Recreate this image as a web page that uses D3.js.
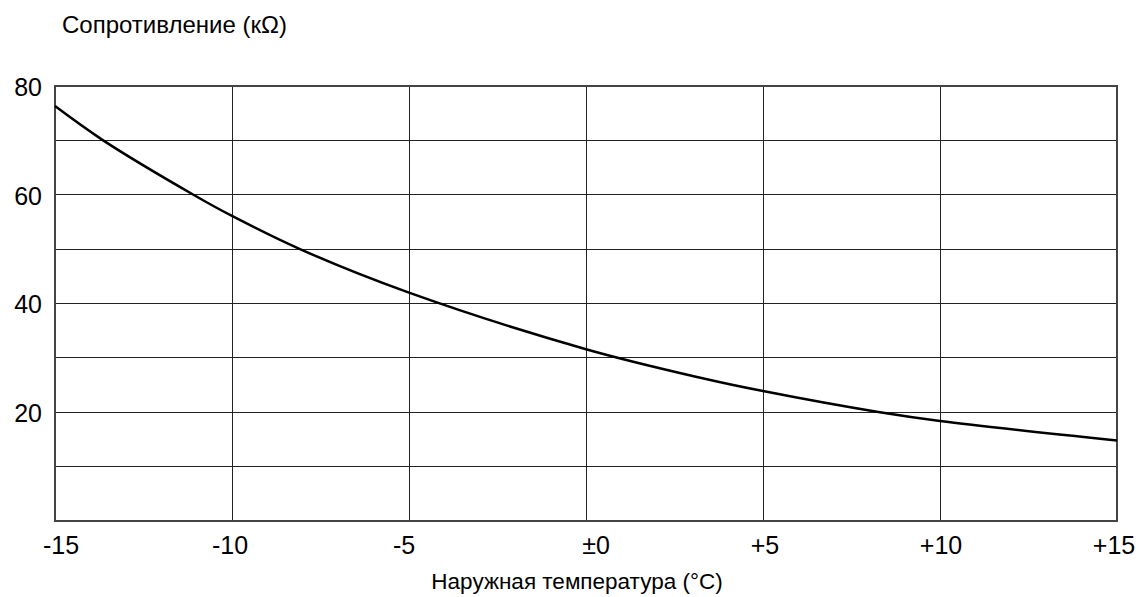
<!DOCTYPE html>
<html><head><meta charset="utf-8">
<script src="https://cdn.jsdelivr.net/npm/d3@7"></script>
<style>body{margin:0;background:#fff}svg{display:block}text{font-family:"Liberation Sans",Arial,sans-serif;fill:#000}</style>
</head><body><svg id="c" width="1140" height="597"></svg>
<script>
const temps = [-15, -13.64, -11.09, -10, -8.08, -5, 0, 3.2, 5, 8.3, 10, 15];
const resistance = [76.3, 70, 60, 56.1, 50, 42.0, 31.6, 26.4, 23.9, 20, 18.4, 14.8];
const xTicks = [-15, -10, -5, 0, 5, 10, 15];
const xTickLabels = ["-15", "-10", "-5", "±0", "+5", "+10", "+15"];
const yGrid = [0, 10, 20, 30, 40, 50, 60, 70, 80];
const yTickLabels = [20, 40, 60, 80];
const yTitle = "Сопротивление (кΩ)";
const xTitle = "Наружная температура (°C)";

const svg = d3.select("#c");
const L = 55, R = 1117, T = 86, B = 521;
const x = d3.scaleLinear().domain([-15, 15]).range([L, R]);
const y = d3.scaleLinear().domain([0, 80]).range([B, T]);
// small horizontal label nudges (layout only)
const labelNudge = {"-15": 6, "-10": -2, "-5": -5, "0": 10, "5": 2, "10": 1, "15": -3};

const g = svg.append("g");
g.selectAll("line.v").data(xTicks).join("line")
  .attr("x1", d => x(d)).attr("x2", d => x(d)).attr("y1", T).attr("y2", B)
  .attr("stroke", "#222").attr("stroke-width", 1).attr("shape-rendering", "crispEdges");
g.selectAll("line.h").data(yGrid).join("line")
  .attr("x1", L).attr("x2", R).attr("y1", d => y(d)).attr("y2", d => y(d))
  .attr("stroke", "#222").attr("stroke-width", 1).attr("shape-rendering", "crispEdges");
g.append("rect").attr("x", L).attr("y", T).attr("width", R - L).attr("height", B - T)
  .attr("fill", "none").attr("stroke", "#444").attr("stroke-width", 2);

svg.selectAll("text.yt").data(yTickLabels).join("text")
  .attr("x", 42).attr("y", d => y(d) + 1).attr("dy", "0.35em").attr("text-anchor", "end")
  .attr("font-size", 25).text(d => d);

svg.selectAll("text.xt").data(xTicks).join("text")
  .attr("x", d => x(d) + (labelNudge[String(d)] || 0)).attr("y", 554).attr("text-anchor", "middle")
  .attr("font-size", 25).text((d, i) => xTickLabels[i]);

svg.append("text").attr("x", 62).attr("y", 33).attr("font-size", 24).text(yTitle);
svg.append("text").attr("x", 577).attr("y", 589).attr("text-anchor", "middle").attr("font-size", 22.5).text(xTitle);

const pts = temps.map((t, i) => [t, resistance[i]]);
svg.append("path").datum(pts)
  .attr("d", d3.line().x(d => x(d[0])).y(d => y(d[1])).curve(d3.curveCatmullRom.alpha(0.5)))
  .attr("fill", "none").attr("stroke", "#000").attr("stroke-width", 2.5);
</script></body></html>
